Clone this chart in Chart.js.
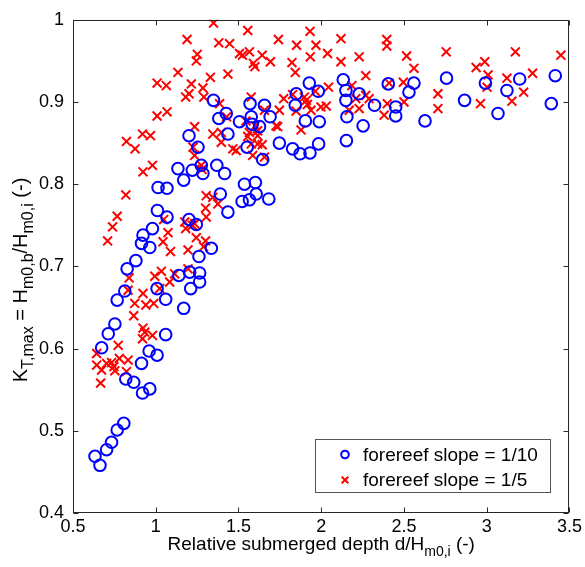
<!DOCTYPE html>
<html><head><meta charset="utf-8">
<script src="https://cdn.jsdelivr.net/npm/chart.js@4/dist/chart.umd.min.js"></script>
<style>html,body{margin:0;padding:0;background:#fff;overflow:hidden}#wrap{width:585px;height:567px}</style>
</head><body><div id="wrap"><canvas id="c" width="585" height="567"></canvas></div>
<script>
const xTicks=[0.5,1,1.5,2,2.5,3,3.5];
const yTicks=[0.4,0.5,0.6,0.7,0.8,0.9,1];
const seriesNames=['forereef slope = 1/10','forereef slope = 1/5'];
const xTitleParts=[['Relative submerged depth d/H',0],['m0,i',1],[' (-)',0]];
const yTitleParts=[['K',0],['T,max',1],[' = H',0],['m0,b',1],['/H',0],['m0,i',1],[' (-)',0]];

const slope10X=[0.633,0.663,0.703,0.733,0.767,0.807,0.819,0.867,0.920,0.964,0.914,0.960,1.008,0.673,0.713,0.753,1.060,0.767,0.813,1.008,1.060,1.169,1.140,1.205,1.265,1.265,1.211,0.827,0.880,1.261,1.336,0.923,0.914,0.964,0.980,1.201,1.245,1.010,1.068,1.390,1.436,1.014,1.068,1.169,1.134,1.221,1.275,1.285,1.369,1.416,1.536,1.602,1.522,1.566,1.607,1.683,1.201,1.255,1.349,1.381,1.426,1.436,1.506,1.570,1.577,1.552,1.646,1.583,1.627,1.928,1.982,2.133,2.149,2.229,2.405,2.560,2.530,1.849,2.149,1.843,1.657,1.691,2.322,2.450,2.450,2.155,1.904,1.988,2.253,2.627,1.747,1.827,1.872,1.932,1.984,2.152,2.757,2.992,3.199,3.122,3.414,2.866,3.068,3.390];
const slope10Y=[0.469,0.458,0.477,0.486,0.501,0.509,0.563,0.559,0.546,0.551,0.582,0.597,0.592,0.601,0.618,0.630,0.617,0.659,0.670,0.673,0.660,0.649,0.689,0.693,0.692,0.681,0.673,0.697,0.707,0.712,0.722,0.738,0.728,0.723,0.746,0.757,0.751,0.768,0.760,0.788,0.766,0.796,0.795,0.805,0.819,0.817,0.823,0.813,0.823,0.813,0.800,0.802,0.779,0.781,0.788,0.782,0.859,0.845,0.902,0.880,0.886,0.861,0.876,0.898,0.882,0.845,0.830,0.873,0.870,0.923,0.913,0.927,0.914,0.910,0.922,0.923,0.912,0.910,0.902,0.896,0.896,0.882,0.896,0.894,0.883,0.882,0.877,0.876,0.871,0.877,0.850,0.843,0.837,0.838,0.849,0.853,0.929,0.923,0.928,0.914,0.932,0.902,0.886,0.898];

const slope5X=[0.643,0.643,0.673,0.667,0.703,0.733,0.747,0.753,0.773,0.780,0.833,0.823,0.920,0.980,0.923,0.934,0.867,0.873,0.923,0.940,0.988,0.839,0.833,0.994,1.034,1.024,1.084,1.114,1.195,0.767,0.739,0.709,0.819,1.048,1.074,1.044,1.089,1.305,1.345,1.301,1.305,1.375,1.175,1.181,1.221,1.235,1.245,1.195,1.301,1.289,1.349,1.556,1.189,1.381,1.446,1.251,1.245,1.506,1.524,1.566,1.590,1.599,1.134,1.436,1.330,1.008,1.064,1.215,1.285,1.181,1.201,1.291,1.577,1.386,1.008,1.068,1.235,1.428,1.345,1.396,0.920,0.968,0.823,0.875,1.396,1.466,1.486,1.235,1.225,0.923,0.980,1.275,1.280,1.545,1.602,1.566,1.616,1.616,1.556,1.577,1.616,1.643,1.586,1.657,1.932,1.741,1.851,1.968,2.119,2.396,2.396,1.643,1.693,1.823,1.843,1.934,2.038,2.119,2.229,2.516,2.560,2.269,2.185,2.410,2.496,2.044,1.964,1.827,1.898,1.910,1.916,1.773,2.209,2.229,2.269,2.289,2.500,2.399,1.657,1.747,1.848,1.938,1.998,2.030,2.169,2.380,1.727,1.737,1.878,2.755,3.173,3.448,2.936,2.988,3.008,3.002,3.122,3.277,3.223,3.152,2.962,2.705,2.705];
const slope5Y=[0.594,0.580,0.574,0.558,0.582,0.583,0.578,0.573,0.604,0.588,0.586,0.572,0.612,0.616,0.625,0.620,0.640,0.655,0.667,0.653,0.655,0.686,0.671,0.688,0.694,0.673,0.681,0.691,0.697,0.761,0.748,0.731,0.787,0.757,0.741,0.730,0.718,0.786,0.784,0.771,0.760,0.776,0.754,0.746,0.750,0.752,0.735,0.720,0.731,0.724,0.996,0.987,0.976,0.972,0.971,0.958,0.950,0.959,0.957,0.961,0.947,0.943,0.936,0.934,0.930,0.923,0.920,0.922,0.917,0.906,0.910,0.906,0.906,0.898,0.883,0.888,0.870,0.882,0.861,0.863,0.861,0.859,0.852,0.843,0.851,0.843,0.841,0.835,0.845,0.815,0.823,0.823,0.818,0.877,0.871,0.863,0.865,0.859,0.858,0.849,0.849,0.848,0.835,0.833,0.986,0.976,0.969,0.969,0.977,0.976,0.968,0.957,0.949,0.948,0.936,0.955,0.959,0.949,0.955,0.956,0.941,0.932,0.920,0.923,0.924,0.918,0.913,0.909,0.906,0.902,0.897,0.904,0.904,0.892,0.908,0.904,0.900,0.898,0.890,0.890,0.889,0.890,0.894,0.895,0.890,0.884,0.871,0.870,0.866,0.961,0.961,0.957,0.942,0.949,0.933,0.918,0.929,0.935,0.912,0.901,0.898,0.910,0.892];

const FONT="'Liberation Sans', Arial, Helvetica, sans-serif";
const BLUE='#0000ff', RED='#ff0000';
const toPts=(xs,ys)=>xs.map((x,i)=>({x:x,y:ys[i]}));

function drawRich(ctx,parts,cx,cy,rot,size,subScale){
  const sub=Math.round(size*subScale);
  ctx.save();
  ctx.translate(cx,cy);
  if(rot) ctx.rotate(-Math.PI/2);
  ctx.fillStyle='#000';
  ctx.textBaseline='alphabetic';
  ctx.textAlign='left';
  let total=0;
  const ws=parts.map(p=>{ctx.font=(p[1]?sub:size)+'px '+FONT;const w=ctx.measureText(p[0]).width;total+=w;return w;});
  let x=-total/2;
  parts.forEach((p,i)=>{ctx.font=(p[1]?sub:size)+'px '+FONT;ctx.fillText(p[0],x,p[1]?size*0.32:0);x+=ws[i];});
  ctx.restore();
}

const decor={
  id:'decor',
  afterDraw(chart){
    const ctx=chart.ctx, a=chart.chartArea, sx=chart.scales.x, sy=chart.scales.y;
    const L=Math.round(a.left)+0.5, R=Math.round(a.right)-0.5, T=Math.round(a.top)+0.5, B=Math.round(a.bottom)-0.5;
    ctx.save();
    ctx.strokeStyle='#262626'; ctx.lineWidth=1;
    ctx.strokeRect(L,T,R-L,B-T);
    const tl=5;
    ctx.beginPath();
    xTicks.forEach(v=>{const px=Math.round(sx.getPixelForValue(v))+0.5; ctx.moveTo(px,B);ctx.lineTo(px,B-tl);ctx.moveTo(px,T);ctx.lineTo(px,T+tl);});
    yTicks.forEach(v=>{const py=Math.round(sy.getPixelForValue(v))+0.5; ctx.moveTo(L,py);ctx.lineTo(L+tl,py);ctx.moveTo(R,py);ctx.lineTo(R-tl,py);});
    ctx.stroke();
    // legend
    const bx=315.5, by=439.5, bw=235, bh=53;
    ctx.fillStyle='#fff'; ctx.fillRect(bx,by,bw,bh);
    ctx.strokeStyle='#555'; ctx.strokeRect(bx,by,bw,bh);
    const mx=345, r1=454.5, r2=480;
    ctx.lineWidth=2;
    ctx.strokeStyle=BLUE; ctx.beginPath(); ctx.arc(mx,r1,3.8,0,Math.PI*2); ctx.stroke();
    ctx.strokeStyle=RED; ctx.beginPath(); const h=3.3;
    ctx.moveTo(mx-h,r2-h);ctx.lineTo(mx+h,r2+h);ctx.moveTo(mx+h,r2-h);ctx.lineTo(mx-h,r2+h); ctx.stroke();
    ctx.fillStyle='#000'; ctx.font='19px '+FONT; ctx.textBaseline='middle'; ctx.textAlign='left';
    ctx.fillText(seriesNames[0],363,r1+1);
    ctx.fillText(seriesNames[1],363,r2+1);
    ctx.restore();
    drawRich(ctx,xTitleParts,(a.left+a.right)/2,550,false,19,0.72);
    drawRich(ctx,yTitleParts,27,280,true,20,0.8);
  }
};

new Chart(document.getElementById('c').getContext('2d'),{
  type:'scatter',
  data:{datasets:[
    {label:seriesNames[0],data:toPts(slope10X,slope10Y),pointStyle:'circle',pointRadius:5.8,pointHoverRadius:5.8,borderWidth:2,pointBorderWidth:2,borderColor:BLUE,pointBorderColor:BLUE,backgroundColor:'rgba(0,0,0,0)',pointBackgroundColor:'rgba(0,0,0,0)'},
    {label:seriesNames[1],data:toPts(slope5X,slope5Y),pointStyle:'crossRot',pointRadius:6.3,pointHoverRadius:6.3,borderWidth:2,pointBorderWidth:2,borderColor:RED,pointBorderColor:RED,backgroundColor:RED}
  ]},
  options:{
    responsive:false,animation:false,devicePixelRatio:1,
    layout:{padding:{left:0,right:14,top:15,bottom:0}},
    plugins:{legend:{display:false},tooltip:{enabled:false}},
    events:[],
    scales:{
      x:{type:'linear',min:0.5,max:3.5,
        afterBuildTicks:s=>{s.ticks=xTicks.map(v=>({value:v}));},
        afterFit:s=>{s.height=54;},
        ticks:{callback:v=>String(v),font:{family:FONT,size:18},color:'#000',padding:3,maxRotation:0,autoSkip:false},
        grid:{display:false,drawTicks:false},border:{display:false}},
      y:{type:'linear',min:0.4,max:1,
        afterBuildTicks:s=>{s.ticks=yTicks.map(v=>({value:v}));},
        afterFit:s=>{s.width=73;},
        ticks:{callback:v=>String(v),font:{family:FONT,size:18},color:'#000',padding:9,autoSkip:false},
        grid:{display:false,drawTicks:false},border:{display:false}}
    }
  },
  plugins:[decor]
});
</script></body></html>
